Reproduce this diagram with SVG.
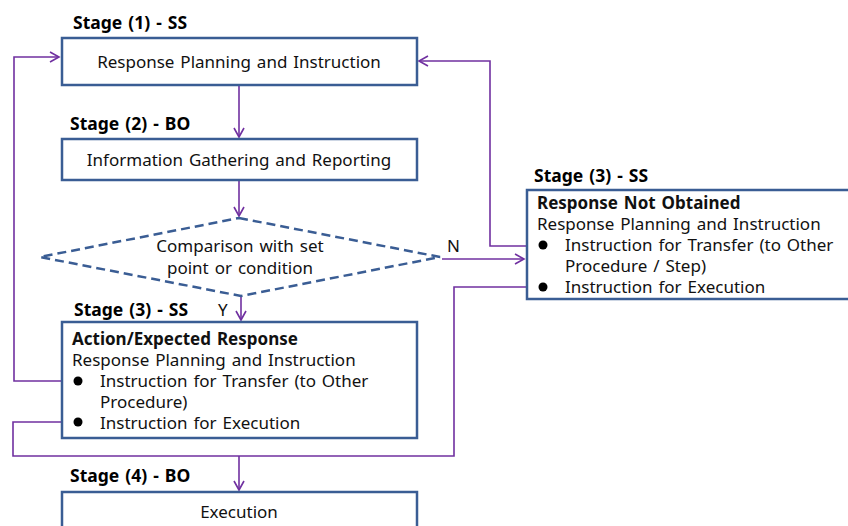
<svg xmlns="http://www.w3.org/2000/svg" width="848" height="526" viewBox="0 0 848 526">
<style>
.box{fill:#fff;stroke:#3a5d94;stroke-width:2.5}
.dia{fill:#fff;stroke:#3a5d94;stroke-width:2.5;stroke-dasharray:9 5}
.t{font-family:"Noto Sans",sans-serif;font-size:17px;word-spacing:1.5px;fill:#111}
.c{text-anchor:middle}
.b{font-weight:bold}
.st{font-family:"Noto Sans",sans-serif;font-size:17.5px;font-weight:bold;word-spacing:1.5px;fill:#000}
.con{fill:none;stroke:#7030a0;stroke-width:1.6}
</style>
<defs>
<marker id="ah" markerWidth="12" markerHeight="12" refX="10" refY="6" orient="auto" markerUnits="userSpaceOnUse">
<path d="M1,1 L10,6 L1,11" fill="none" stroke="#7030a0" stroke-width="1.6"/>
</marker>
</defs>
<rect width="848" height="526" fill="#fff"/>
<g id="connectors">
<line class="con" x1="239" y1="86" x2="239" y2="137" marker-end="url(#ah)"/>
<line class="con" x1="239" y1="181" x2="239" y2="216" marker-end="url(#ah)"/>
<line class="con" x1="241" y1="297" x2="241" y2="320" marker-end="url(#ah)"/>
<line class="con" x1="442" y1="259" x2="524" y2="259" marker-end="url(#ah)"/>
<polyline class="con" points="78,381 14,381 14,57 59,57" marker-end="url(#ah)"/>
<polyline class="con" points="540,246 490,246 490,61 419,61" marker-end="url(#ah)"/>
<polyline class="con" points="78,422 13,422 13,456 454,456 454,287 540,287"/>
<line class="con" x1="239" y1="456" x2="239" y2="490" marker-end="url(#ah)"/>
<text class="t" x="218" y="316">Y</text>
<text class="t" x="447" y="252">N</text>
</g>
<g id="stage1">
<text class="st" x="73" y="29">Stage (1) - SS</text>
<rect class="box" x="62" y="38" width="355" height="47"/>
<text class="t c" x="239" y="68">Response Planning and Instruction</text>
</g>
<g id="stage2">
<text class="st" x="70" y="130">Stage (2) - BO</text>
<rect class="box" x="62" y="139" width="355" height="41"/>
<text class="t c" x="239" y="166">Information Gathering and Reporting</text>
</g>
<g id="decision">
<polygon class="dia" points="239,218 440,257 241,296 40,257"/>
<text class="t c" x="240" y="252">Comparison with set</text>
<text class="t c" x="240" y="274">point or condition</text>
</g>
<g id="stage3-expected">
<text class="st" x="74" y="316">Stage (3) - SS</text>
<rect class="box" x="62" y="322" width="355" height="116"/>
<text class="t b" x="72" y="345">Action/Expected Response</text>
<text class="t" x="72" y="366">Response Planning and Instruction</text>
<circle cx="78" cy="381" r="4.5" fill="#000"/>
<text class="t" x="100" y="387">Instruction for Transfer (to Other</text>
<text class="t" x="100" y="408">Procedure)</text>
<circle cx="78" cy="422" r="4.5" fill="#000"/>
<text class="t" x="100" y="429">Instruction for Execution</text>
</g>
<g id="stage3-not-obtained">
<text class="st" x="534" y="182">Stage (3) - SS</text>
<rect class="box" x="527" y="190" width="330" height="109"/>
<text class="t b" x="537" y="209">Response Not Obtained</text>
<text class="t" x="537" y="230">Response Planning and Instruction</text>
<circle cx="543" cy="245" r="4.5" fill="#000"/>
<text class="t" x="565" y="251">Instruction for Transfer (to Other</text>
<text class="t" x="565" y="272">Procedure / Step)</text>
<circle cx="543" cy="287" r="4.5" fill="#000"/>
<text class="t" x="565" y="293">Instruction for Execution</text>
</g>
<g id="stage4">
<text class="st" x="70" y="482">Stage (4) - BO</text>
<rect class="box" x="62" y="492" width="355" height="50"/>
<text class="t c" x="239" y="518">Execution</text>
</g>
</svg>
